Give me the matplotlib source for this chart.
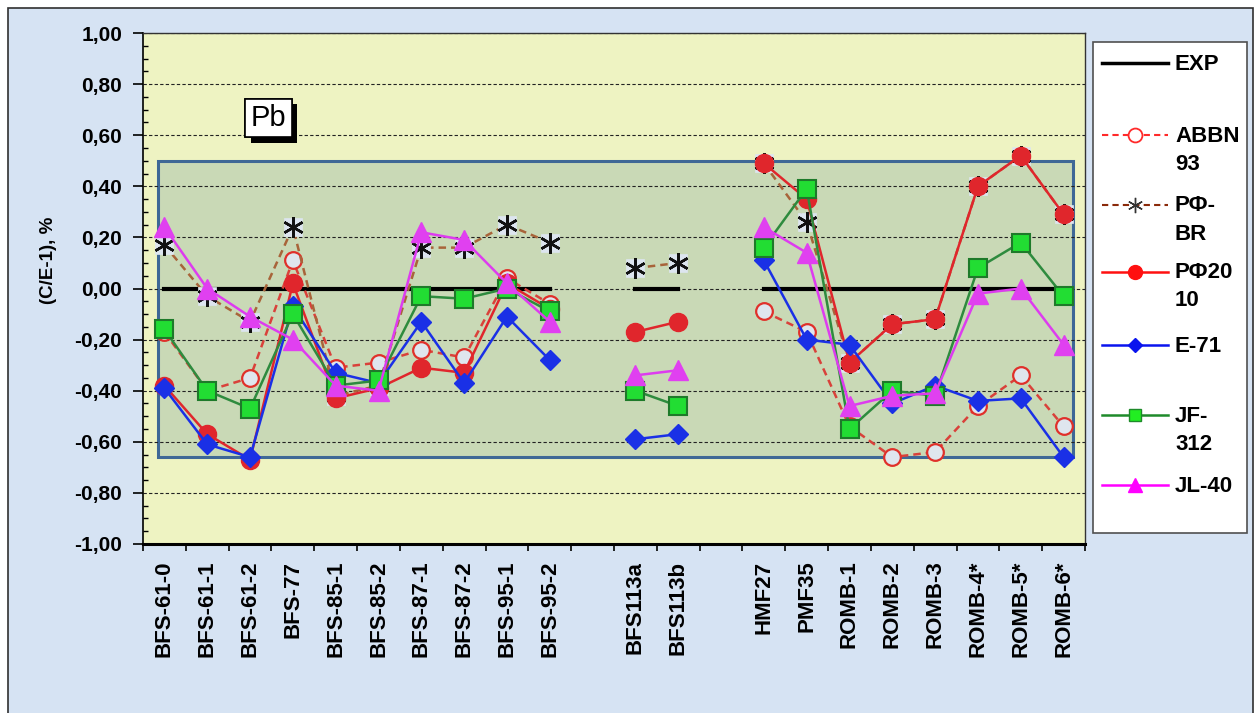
import numpy as np
import matplotlib
matplotlib.use("Agg")
import matplotlib.pyplot as plt
from matplotlib.patches import Rectangle
from matplotlib.lines import Line2D
import matplotlib.patheffects as pe

plt.rcParams['font.family'] = ['Liberation Sans', 'DejaVu Sans']

nan = np.nan

# Benchmarks (blank names separate the groups)
categories = ['BFS-61-0', 'BFS-61-1', 'BFS-61-2', 'BFS-77', 'BFS-85-1', 'BFS-85-2',
              'BFS-87-1', 'BFS-87-2', 'BFS-95-1', 'BFS-95-2', '',
              'BFS113a', 'BFS113b', '',
              'HMF27', 'PMF35', 'ROMB-1', 'ROMB-2', 'ROMB-3', 'ROMB-4*', 'ROMB-5*', 'ROMB-6*']

exp = [0, 0, 0, 0, 0, 0, 0, 0, 0, 0, nan, 0, 0, nan, 0, 0, 0, 0, 0, 0, 0, 0]
abbn93 = [-0.17, -0.40, -0.35, 0.11, -0.31, -0.29, -0.24, -0.27, 0.04, -0.06, nan,
          nan, nan, nan, -0.09, -0.17, -0.54, -0.66, -0.64, -0.46, -0.34, -0.54]
rf_br = [0.17, -0.03, -0.13, 0.24, -0.42, -0.38, 0.16, 0.16, 0.25, 0.18, nan,
         0.08, 0.10, nan, 0.49, 0.26, -0.29, -0.14, -0.12, 0.40, 0.52, 0.29]
rf2010 = [-0.38, -0.57, -0.67, 0.02, -0.43, -0.39, -0.31, -0.33, 0.02, -0.08, nan,
          -0.17, -0.13, nan, 0.49, 0.35, -0.29, -0.14, -0.12, 0.40, 0.52, 0.29]
e71 = [-0.39, -0.61, -0.66, -0.07, -0.33, -0.37, -0.13, -0.37, -0.11, -0.28, nan,
       -0.59, -0.57, nan, 0.11, -0.20, -0.22, -0.45, -0.38, -0.44, -0.43, -0.66]
jf312 = [-0.16, -0.40, -0.47, -0.10, -0.38, -0.36, -0.03, -0.04, 0.00, -0.09, nan,
         -0.40, -0.46, nan, 0.16, 0.39, -0.55, -0.40, -0.42, 0.08, 0.18, -0.03]
jl40 = [0.24, 0.00, -0.11, -0.20, -0.38, -0.40, 0.22, 0.19, 0.02, -0.13, nan,
        -0.34, -0.32, nan, 0.24, 0.14, -0.46, -0.42, -0.41, -0.02, 0.00, -0.22]

W, H = 1259, 713
def fx(px):
    return px / W
def fy(py):
    return 1 - py / H

fig = plt.figure(figsize=(W / 100, H / 100), dpi=100, facecolor='white')
fig.add_artist(Rectangle((fx(8), -0.05), fx(1253) - fx(8), fy(8) + 0.05,
                         transform=fig.transFigure, fc='#d6e3f3', ec='#303030',
                         lw=1.2, zorder=-1))

ax = fig.add_axes([fx(143), fy(544), fx(1085) - fx(143), fy(33) - fy(544)])
ax.set_facecolor('#eef3c2')
x = np.arange(len(categories))

# shaded band
ax.add_patch(Rectangle((-0.15, -0.66), 21.37, 1.16, fc='#c9d9b6', ec='#3f6896',
                       lw=2.2, zorder=0.2))

ax.plot(x, exp, color='black', lw=3, zorder=2)
ax.plot(x, abbn93, color='#d9413a', ls=(0, (3, 2)), lw=1.8, marker='o', ms=12,
        mfc='#dfe6ee', mec='#e0302a', mew=1.6, zorder=3)
# РФ-BR: dashed line, pale tile behind each asterisk
ax.plot(x, rf_br, color='#a8643a', ls=(0, (3, 2)), lw=1.8, zorder=4)
ax.plot(x, rf_br, ls='none', marker='s', ms=13.5, mfc='#dde5ef', mec='#dde5ef',
        mew=0.5, zorder=4.1)
ax.plot(x, rf_br, ls='none', marker=(6, 2, 0), ms=15, mec='#111111', mew=1.8, zorder=4.2)
ax.plot(x, rf2010, color='#e0262c', lw=1.8, marker='o', ms=13,
        mfc='#e0262c', mec='#e0262c', zorder=5)
ax.plot(x, e71, color='#1a30e6', lw=1.8, marker='D', ms=10,
        mfc='#1a30e6', mec='#1a30e6', zorder=6)
ax.plot(x, jf312, color='#2e8b3e', lw=1.8, marker='s', ms=12.5,
        mfc='#22dd33', mec='#1e7a2a', mew=1.5, zorder=7)
ax.plot(x, jl40, color='#dd3cef', lw=1.8, marker='^', ms=14,
        mfc='#e040f0', mec='#e040f0', zorder=8)

ax.set_xlim(-0.5, len(categories) - 0.5)
ax.set_ylim(-1.0, 1.0)
ax.set_axisbelow(True)

yt = np.round(np.arange(-1.0, 1.01, 0.2), 2)
ax.set_yticks(yt)
ax.set_yticklabels([f"{v + 0.0:.2f}".replace('.', ',').replace('-0,00', '0,00') for v in yt],
                   fontsize=15, fontweight='bold')
ax.set_yticks(np.arange(-1.0, 1.01, 0.05), minor=True)
ax.tick_params(axis='y', which='major', direction='out', length=7, width=1.2, pad=8)
ax.tick_params(axis='y', which='minor', direction='in', length=3.5, width=1.0)
ax.yaxis.grid(True, which='major', color='#222222', ls=(0, (3, 2)), lw=0.8)

ax.set_xticks(x)
ax.set_xticklabels(categories, rotation=90, fontsize=16, fontweight='bold',
                   ha='center', va='top')
ax.set_xticks(np.arange(-0.5, len(categories), 1.0), minor=True)
ax.tick_params(axis='x', which='major', length=0, pad=12)
ax.tick_params(axis='x', which='minor', direction='out', length=5, width=1.2)

for s in ['top', 'right']:
    ax.spines[s].set_color('#333333')
    ax.spines[s].set_linewidth(1.0)
ax.spines['left'].set_linewidth(1.2)
ax.spines['bottom'].set_linewidth(2.2)

ax.set_ylabel('(C/E-1), %', fontsize=13.5, fontweight='bold', va='center', ha='center')
ax.yaxis.set_label_coords(-0.100, 0.556)

pb = ax.text(2.43, 0.668, 'Pb', fontsize=21, ha='center', va='center', zorder=9,
             bbox=dict(boxstyle='square,pad=0.18', fc='white', ec='black', lw=1.2))
pb.get_bbox_patch().set_path_effects([
    pe.withSimplePatchShadow(offset=(4, -4), shadow_rgbFace='black', alpha=1.0),
    pe.Normal()])

# legend box
fig.add_artist(Rectangle((fx(1093), fy(533)), fx(1247) - fx(1093), fy(42) - fy(533),
                         transform=fig.transFigure, fc='white', ec='#505050', lw=1.2))
legend_rows = [
    (63, ['EXP'], dict(color='black', lw=2.5, marker=None)),
    (135, ['ABBN', '93'], dict(color='#ff2a2a', lw=1.5, ls=(0, (3, 2)), marker='o', ms=10,
                               mfc='white', mec='#ff2a2a', mew=1.3)),
    (205, ['РФ-', 'BR'], dict(color='#8a2a0a', lw=1.5, ls=(0, (3, 2)), marker=(6, 2, 0),
                             ms=11, mec='#333333', mew=1.0)),
    (272, ['РФ20', '10'], dict(color='#ff1010', lw=1.8, marker='o', ms=10,
                               mfc='#ff1010', mec='#ff1010')),
    (345, ['E-71'], dict(color='#0a14ee', lw=1.8, marker='D', ms=7,
                         mfc='#0a14ee', mec='#0a14ee')),
    (415, ['JF-', '312'], dict(color='#1e8a2a', lw=1.8, marker='s', ms=9,
                              mfc='#22ee22', mec='#1e8a2a', mew=1.0)),
    (485, ['JL-40'], dict(color='#ff00ff', lw=1.8, marker='^', ms=10,
                          mfc='#ff00ff', mec='#ff00ff')),
]
for row_y, lines, style in legend_rows:
    fig.add_artist(Line2D([fx(1102), fx(1135), fx(1168)], [fy(row_y)] * 3,
                          transform=fig.transFigure, markevery=[1], **style))
    for i, txt in enumerate(lines):
        fig.text(fx(1175), fy(row_y + 1 + i * 28), txt, fontsize=16, fontweight='bold',
                 ha='left', va='center')

fig.savefig('out.png', dpi=100, facecolor='white')
